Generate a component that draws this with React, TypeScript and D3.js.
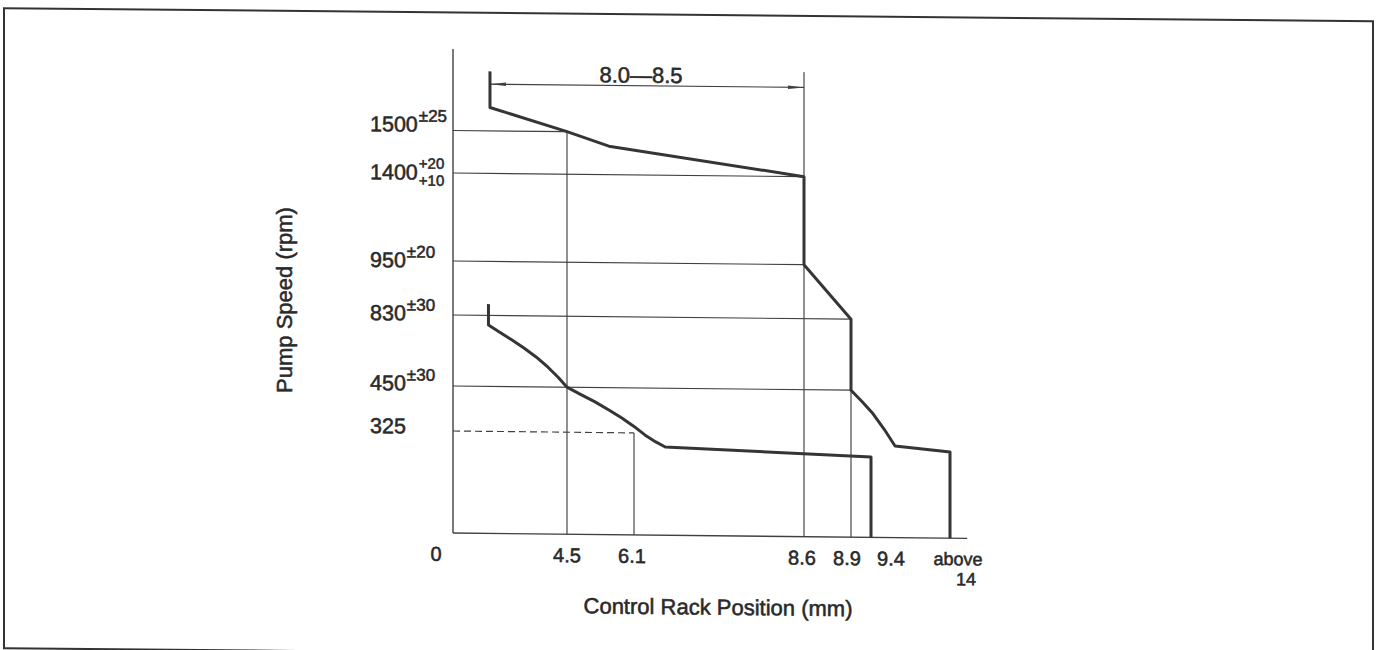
import React from 'react';
import * as d3 from 'd3';

// ---- data (rack position in mm, pump speed in rpm) ----
const rackTicks = [0, 4.5, 6.1, 8.6, 8.9, 9.4, 14];
const rackLabels = ['0', '4.5', '6.1', '8.6', '8.9', '9.4', 'above|14'];
const rpmTicks = [0, 325, 450, 830, 950, 1400, 1500];
const rpmLabels = ['1500', '1400', '950', '830', '450', '325'];
const rpmTolerances = ['±25', '+20|+10', '±20', '±30', '±30', ''];

// reference lines: speed level -> rack position where they end
const gridRpm = [1500, 1400, 950, 830, 450, 325];
const gridRackEnd = [4.5, 8.6, 8.6, 8.9, 8.9, 6.1];
// vertical reference lines: rack position, from speed
const vRack = [4.5, 6.1, 8.6, 8.9];
const vRpmTop = [1500, 325, 1646, 830];

// upper governor curve
const upperRack = [1.46, 1.46, 4.5, 5.5, 8.6, 8.6, 8.9, 8.9, 9.18, 9.52, 10.16, 10.8, 14, 14];
const upperRpm = [1640, 1555, 1500, 1467, 1400, 950, 830, 450, 418, 385, 343, 292, 275, 0];
// lower (idle) curve
const lowerRack = [1.4, 1.4, 1.86, 2.33, 2.8, 3.28, 3.75, 4.15, 4.5, 4.81, 5.17, 5.53, 5.81, 6.1, 6.26, 6.42, 6.56, 9.4, 9.4];
const lowerRpm = [855, 779, 739, 699, 657, 610, 556, 503, 450, 431, 410, 386, 366, 343, 319, 297, 281, 256, 0];

// dimension 8.0-8.5
const dimRack = [1.46, 8.6];
const dimRpm = 1610;
const dimLabel = '8.0—8.5';

const axisRackEnd = 15.0;
const axisRpmTop = 1692;

export default function App() {
  const x = d3.scaleLinear().domain(rackTicks).range([453, 567, 634, 804, 851, 871, 950]);
  const y = d3.scaleLinear().domain(rpmTicks).range([533, 431, 386, 315, 261, 173, 130.5]);

  const line = d3
    .line<[number, number]>()
    .x((d) => x(d[0]))
    .y((d) => y(d[1]));

  const upper = line(upperRack.map((r, i) => [r, upperRpm[i]]) as [number, number][]) || '';
  const lower = line(lowerRack.map((r, i) => [r, lowerRpm[i]]) as [number, number][]) || '';

  const thin = '#404040';
  const thick = '#353535';
  const txt = '#2a2a2a';
  const font = '"Liberation Sans", Arial, Helvetica, sans-serif';
  const heavy = { stroke: txt, strokeWidth: 0.55 };

  const labelDy: Record<string, number> = { '1500': 1.5, '1400': 7, '950': 7, '830': 6, '450': 5, '325': 3 };
  const xLabelDx: Record<string, number> = { '0': -17, '4.5': 0, '6.1': -2, '8.6': -2, '8.9': -4, '9.4': 20 };

  const dimY = y(dimRpm);
  const dx0 = x(dimRack[0]);
  const dx1 = x(dimRack[1]);

  const skew = (cx: number, deg: number) => `translate(${cx},0) skewY(${deg}) translate(${-cx},0)`;

  return (
    <svg
      width={1376}
      height={650}
      style={{ position: 'absolute', left: 0, top: 0, display: 'block', background: '#fff' }}
      fontFamily={font}
    >
      <g transform={skew(453, 0.55)}>
        {/* frame */}
        <rect x={4} y={12.5} width={1369} height={640} fill="none" stroke="#333" strokeWidth={2} />
      </g>
      <g transform={skew(453, 0.6)}>
        {/* axes */}
        <line x1={x(0)} y1={y(0)} x2={x(0)} y2={y(axisRpmTop)} stroke={thin} strokeWidth={1.4} />
        <line x1={x(0)} y1={y(0)} x2={x(axisRackEnd)} y2={y(0)} stroke={thin} strokeWidth={1.4} />

        {/* horizontal reference lines */}
        {gridRpm.map((r, i) => (
          <line
            key={'g' + r}
            x1={x(0)}
            x2={x(gridRackEnd[i])}
            y1={y(r)}
            y2={y(r)}
            stroke={thin}
            strokeWidth={1.15}
            strokeDasharray={r === 325 ? '7 4' : undefined}
          />
        ))}
        {/* vertical reference lines */}
        {vRack.map((r, i) => (
          <line key={'v' + r} x1={x(r)} x2={x(r)} y1={y(vRpmTop[i])} y2={y(0)} stroke={thin} strokeWidth={1.15} />
        ))}

        {/* dimension line */}
        <line x1={dx0} x2={dx1} y1={dimY} y2={dimY} stroke={thin} strokeWidth={1.15} />
        <path d={`M${dx0},${dimY} L${dx0 + 16},${dimY - 1.8} L${dx0 + 16},${dimY + 1.8} Z`} fill={thin} />
        <path d={`M${dx1},${dimY} L${dx1 - 16},${dimY - 1.8} L${dx1 - 16},${dimY + 1.8} Z`} fill={thin} />
        <text x={641} y={dimY - 3} textAnchor="middle" fontSize={22} fill={txt} {...heavy}>
          {dimLabel}
        </text>

        {/* curves */}
        <path d={upper} fill="none" stroke={thick} strokeWidth={3} strokeLinejoin="round" />
        <path d={lower} fill="none" stroke={thick} strokeWidth={3} strokeLinejoin="round" />

        {/* y tick labels */}
        {rpmLabels.map((lab, i) => {
          const base = y(+lab) + labelDy[lab];
          const tol = rpmTolerances[i];
          const w = lab.length * 0.556 * 21.5;
          return (
            <g key={'yl' + lab}>
              <text x={370} y={base} fontSize={21.5} fill={txt} {...heavy}>
                {lab}
              </text>
              {tol.includes('|') ? (
                <>
                  <text x={370 + w + 1} y={base - 11} fontSize={15} fill={txt} {...heavy}>
                    {tol.split('|')[0]}
                  </text>
                  <text x={370 + w + 1} y={base + 6} fontSize={15} fill={txt} {...heavy}>
                    {tol.split('|')[1]}
                  </text>
                </>
              ) : tol ? (
                <text x={370 + w + 1} y={base - 10} fontSize={17} fill={txt} {...heavy}>
                  {tol}
                </text>
              ) : null}
            </g>
          );
        })}

        {/* x tick labels */}
        {rackLabels.map((lab, i) => {
          if (lab.includes('|')) {
            const [a, b] = lab.split('|');
            return (
              <g key={'xl' + lab}>
                <text x={x(rackTicks[i]) + 8} y={y(0) + 27} textAnchor="middle" fontSize={18} fill={txt} {...heavy}>
                  {a}
                </text>
                <text x={x(rackTicks[i]) + 16} y={y(0) + 47} textAnchor="middle" fontSize={18} fill={txt} {...heavy}>
                  {b}
                </text>
              </g>
            );
          }
          return (
            <text
              key={'xl' + lab}
              x={x(rackTicks[i]) + xLabelDx[lab]}
              y={y(0) + 28}
              textAnchor="middle"
              fontSize={20}
              fill={txt}
              {...heavy}
            >
              {lab}
            </text>
          );
        })}

        {/* axis titles */}
        <text x={718} y={y(0) + 79} textAnchor="middle" fontSize={22} fill={txt} {...heavy}>
          Control Rack Position (mm)
        </text>
      </g>
      <text
        transform={`translate(292,300) rotate(-90)`}
        textAnchor="middle"
        fontSize={22}
        fill={txt}
        {...heavy}
      >
        Pump Speed (rpm)
      </text>
    </svg>
  );
}
